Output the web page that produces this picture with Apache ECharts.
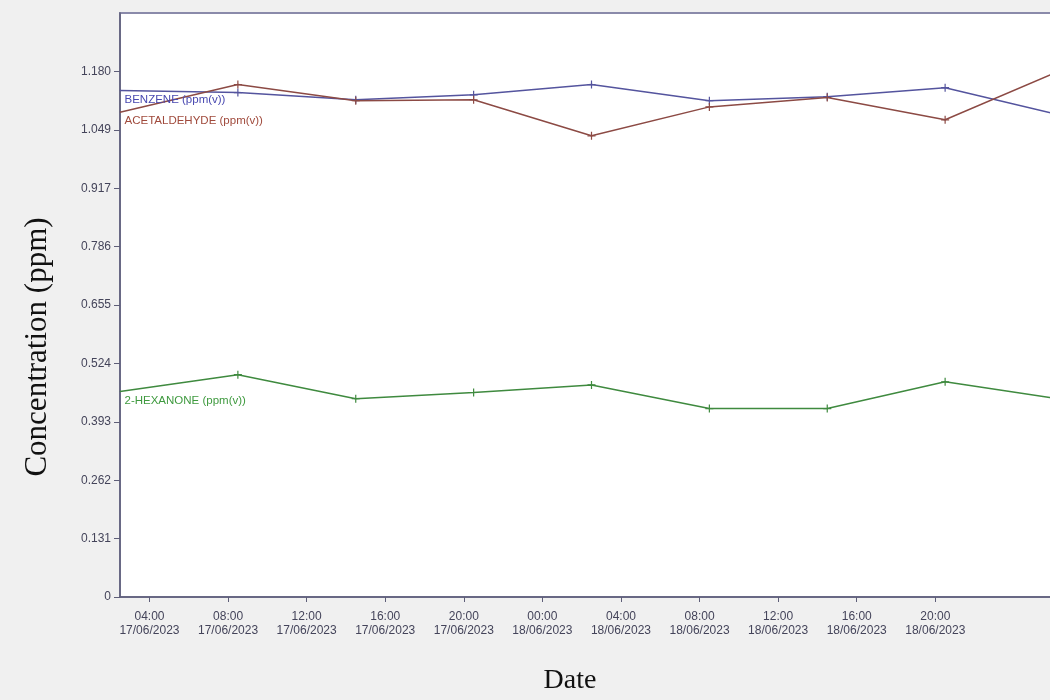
<!DOCTYPE html>
<html>
<head>
<meta charset="utf-8">
<script src="https://cdn.jsdelivr.net/npm/echarts@6/dist/echarts.min.js"></script>
<style>
html,body{margin:0;padding:0;background:#f0f0f0;overflow:hidden;width:1050px;height:700px;}
#chart{width:1063px;height:700px;}
</style>
</head>
<body>
<div id="chart"></div>
<script>
// Sample times (every 6 h)
const times = [
  '2023-06-17T02:30', '2023-06-17T08:30', '2023-06-17T14:30', '2023-06-17T20:30',
  '2023-06-18T02:30', '2023-06-18T08:30', '2023-06-18T14:30', '2023-06-18T20:30',
  '2023-06-19T02:30'
];
const benzene      = [1.137, 1.132, 1.116, 1.127, 1.150, 1.114, 1.123, 1.143, 1.080];
const acetaldehyde = [1.088, 1.150, 1.114, 1.116, 1.035, 1.100, 1.121, 1.071, 1.184];
const hexanone     = [0.461, 0.499, 0.445, 0.459, 0.476, 0.423, 0.423, 0.483, 0.443];
// X tick positions (labels)
const xTicks = [
  '2023-06-17T04:00', '2023-06-17T08:00', '2023-06-17T12:00', '2023-06-17T16:00',
  '2023-06-17T20:00', '2023-06-18T00:00', '2023-06-18T04:00', '2023-06-18T08:00',
  '2023-06-18T12:00', '2023-06-18T16:00', '2023-06-18T20:00'
];
const yInterval = 0.13107;
const yMax = 1.3107;
const xMin = '2023-06-17T02:30';
const xMax = '2023-06-19T02:30';

const names = ['BENZENE (ppm(v))', 'ACETALDEHYDE (ppm(v))', '2-HEXANONE (ppm(v))'];
const lineColors = ['#54549e', '#8c4a44', '#3f8a3f'];
const labelColors = ['#4848b0', '#a04a3c', '#3f9a3f'];
const seriesValues = [benzene, acetaldehyde, hexanone];

// hours since 17/06/2023 00:00
const base = new Date('2023-06-17T00:00').getTime();
const toH = s => (new Date(s).getTime() - base) / 3600000;
const pad = n => (n < 10 ? '0' : '') + n;
const plus = 'path://M3.4,0h1.2v3.4h3.4v1.2h-3.4v3.4h-1.2v-3.4h-3.4v-1.2h3.4z';

const chart = echarts.init(document.getElementById('chart'));
const series = seriesValues.map((vals, si) => ({
  name: names[si],
  type: 'line',
  clip: true,
  symbol: plus,
  symbolSize: 8,
  lineStyle: { color: lineColors[si], width: 1.5 },
  itemStyle: { color: lineColors[si] },
  emphasis: { disabled: true },
  data: vals.map((v, i) => {
    const item = { value: [toH(times[i]), v] };
    if (i === 0) {
      item.symbolSize = 1;
      item.label = {
        show: true,
        formatter: names[si],
        position: 'right',
        distance: 4,
        offset: [0, 9],
        color: labelColors[si],
        fontSize: 11.5,
        fontFamily: 'Liberation Sans'
      };
    }
    return item;
  })
}));

chart.setOption({
  backgroundColor: '#f0f0f0',
  animation: false,
  grid: {
    left: 120, top: 13, right: 0, bottom: 102,
    show: true, backgroundColor: '#ffffff',
    borderColor: '#8a8aaa', borderWidth: 2
  },
  xAxis: {
    type: 'value',
    min: toH(xMin),
    max: toH(xMax),
    name: 'Date',
    nameLocation: 'middle',
    nameGap: 70,
    nameTextStyle: { fontFamily: 'Liberation Serif', fontSize: 28, color: '#111', padding: [0, 43, 0, 0] },
    axisLine: { show: true, lineStyle: { color: '#5e5e78', width: 1.5 } },
    axisTick: { show: true, length: 5, customValues: xTicks.map(toH), lineStyle: { color: '#5e5e78' } },
    axisLabel: {
      customValues: xTicks.map(toH),
      margin: 13,
      fontFamily: 'Liberation Sans',
      fontSize: 12,
      lineHeight: 14,
      color: '#44445a',
      formatter: v => {
        const d = new Date(base + v * 3600000);
        return pad(d.getHours()) + ':' + pad(d.getMinutes()) + '\n' +
          pad(d.getDate()) + '/' + pad(d.getMonth() + 1) + '/' + d.getFullYear();
      }
    },
    splitLine: { show: false }
  },
  yAxis: {
    type: 'value',
    min: 0,
    max: yMax,
    interval: yInterval,
    name: 'Concentration (ppm)',
    nameLocation: 'middle',
    nameGap: 67,
    nameRotate: 90,
    nameTextStyle: { fontFamily: 'Liberation Serif', fontSize: 31, color: '#111', padding: [0, 84, 0, 0] },
    axisLine: { show: true, lineStyle: { color: '#5e5e78', width: 1.5 } },
    axisTick: { show: true, length: 6, lineStyle: { color: '#5e5e78' } },
    axisLabel: {
      margin: 9,
      fontFamily: 'Liberation Sans',
      fontSize: 12,
      color: '#44445a',
      showMaxLabel: false,
      formatter: v => (v === 0 ? '0' : (v > yMax - 0.01 ? '' : v.toFixed(3)))
    },
    splitLine: { show: false }
  },
  series: series
});
</script>
</body>
</html>
